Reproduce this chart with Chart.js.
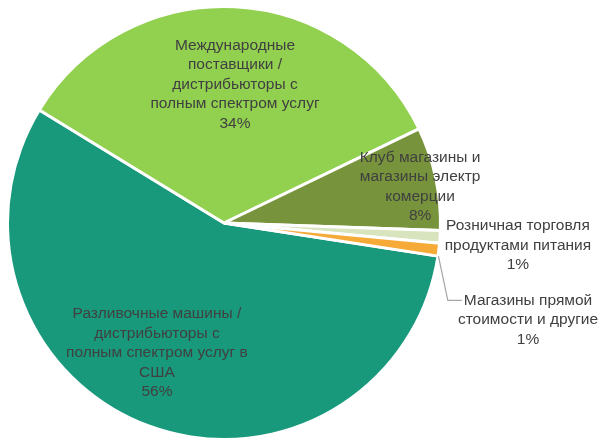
<!DOCTYPE html>
<html>
<head>
<meta charset="utf-8">
<script src="https://cdn.jsdelivr.net/npm/chart.js@4/dist/chart.umd.min.js"></script>
<style>
html,body{margin:0;padding:0;background:#fff;}
#wrap{width:600px;height:439px;position:relative;}
</style>
</head>
<body>
<div id="wrap"><canvas id="c" width="600" height="439"></canvas></div>
<script>
// ---- data ----
const categories = [
  "Разливочные машины / дистрибьюторы с полным спектром услуг в США",
  "Международные поставщики / дистрибьюторы с полным спектром услуг",
  "Клуб магазины и магазины электр комерции",
  "Розничная торговля продуктами питания",
  "Магазины прямой стоимости и другие"
];
const labelLines = [
  ["Разливочные машины /", "дистрибьюторы с", "полным спектром услуг в", "США"],
  ["Международные", "поставщики /", "дистрибьюторы с", "полным спектром услуг"],
  ["Клуб магазины и", "магазины электр", "комерции"],
  ["Розничная торговля", "продуктами питания"],
  ["Магазины прямой", "стоимости и другие"]
];
const shares = [56.3, 34.1, 7.7, 0.95, 0.95];
const colors = ["#18997B", "#92D050", "#77933C", "#D7E4BD", "#F6AA38"];

// label anchor (fraction of radius from centre), styling only
const labelPos = [
  {fx: -0.312, fy: 0.605},
  {fx: 0.051, fy: -0.645},
  {fx: 0.912, fy: -0.168},
  {fx: 1.367, fy: 0.104},
  {fx: 1.414, fy: 0.451, leader: true}
];

const FONT = "15.5px 'Liberation Sans', sans-serif";
const LH = 19.5;

const labelPlugin = {
  id: 'pieLabels',
  afterDatasetsDraw(chart) {
    const ctx = chart.ctx;
    const meta = chart.getDatasetMeta(0);
    const total = shares.reduce((a, b) => a + b, 0);
    ctx.save();
    ctx.font = FONT;
    ctx.fillStyle = "#404040";
    ctx.textAlign = "center";
    ctx.textBaseline = "middle";
    meta.data.forEach((arc, i) => {
      const cx = arc.x, cy = arc.y, r = 215;
      const p = labelPos[i];
      const lines = labelLines[i].concat([Math.round(shares[i] / total * 100) + "%"]);
      const x = cx + p.fx * r;
      const y0 = cy + p.fy * r - (lines.length - 1) * LH / 2;
      if (p.leader) {
        const a = arc.endAngle;
        const sx = cx + Math.cos(a) * (r + 2), sy = cy + Math.sin(a) * (r + 2);
        const w = ctx.measureText(lines[0]).width;
        const ex = x - w / 2 - 2;
        ctx.strokeStyle = "#A6A6A6";
        ctx.lineWidth = 1.2;
        ctx.beginPath();
        ctx.moveTo(sx, sy);
        ctx.lineTo(ex - 14, y0);
        ctx.lineTo(ex, y0);
        ctx.stroke();
      }
      lines.forEach((t, k) => ctx.fillText(t, x, y0 + k * LH));
    });
    ctx.restore();
  }
};

new Chart(document.getElementById('c'), {
  type: 'pie',
  data: {
    labels: categories,
    datasets: [{
      data: shares,
      backgroundColor: colors,
      borderColor: "#FFFFFF",
      borderWidth: 3
    }]
  },
  options: {
    responsive: false,
    animation: false,
    rotation: 98.8,
    radius: 216.5,
    layout: {padding: {left: 8, top: 7, right: 160, bottom: 0}},
    plugins: {legend: {display: false}, tooltip: {enabled: false}}
  },
  plugins: [labelPlugin]
});
</script>
</body>
</html>
